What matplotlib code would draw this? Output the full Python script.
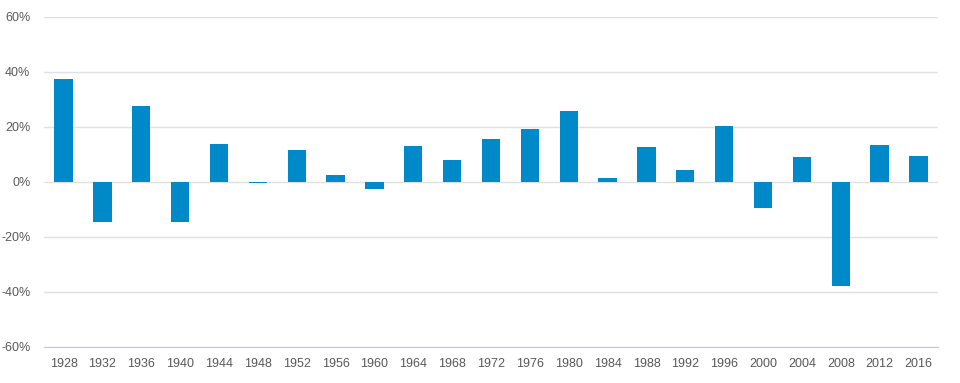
import matplotlib.pyplot as plt
from matplotlib.ticker import FuncFormatter

years = ['1928', '1932', '1936', '1940', '1944', '1948', '1952', '1956', '1960', '1964', '1968',
         '1972', '1976', '1980', '1984', '1988', '1992', '1996', '2000', '2004', '2008', '2012', '2016']
returns = [37.5, -14.5, 27.6, -14.5, 13.8, -0.5, 11.6, 2.5, -2.5, 13.0, 8.0,
           15.6, 19.3, 25.8, 1.4, 12.7, 4.5, 20.4, -9.5, 9.0, -37.8, 13.4, 9.5]

plt.rcParams['font.family'] = ['Liberation Sans', 'DejaVu Sans']

fig = plt.figure(figsize=(9.6, 3.83), dpi=100)
ax = fig.add_axes([0.046, 0.094, 0.931, 0.862])

x = range(len(years))
ax.bar(x, returns, width=0.47, color='#0089c8', zorder=3)

ax.set_xlim(-0.5, len(years) - 0.5)
ax.set_ylim(-60, 60)
ax.set_yticks(range(-60, 61, 20))
ax.yaxis.set_major_formatter(FuncFormatter(lambda v, p: f'{v:.0f}%'))
ax.set_xticks(list(x))
ax.set_xticklabels(years)

ax.grid(axis='y', color='#e0e0e0', linewidth=1, zorder=0)
for s in ['top', 'right', 'left']:
    ax.spines[s].set_visible(False)
ax.spines['bottom'].set_color('#c8c8d0')
ax.tick_params(length=0, labelsize=9, colors='#595959')
ax.tick_params(axis='x', pad=8)
ax.tick_params(axis='y', pad=10)

plt.savefig('out.png', dpi=100)
